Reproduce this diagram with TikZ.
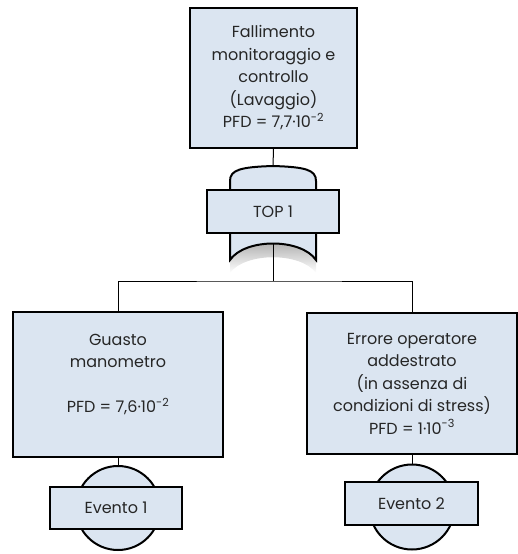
\documentclass[tikz,border=0pt]{standalone}
\usepackage{fontspec}
\setmainfont{Poppins}
\usetikzlibrary{positioning}
\definecolor{boxfill}{HTML}{DBE5F1}
\definecolor{textgray}{HTML}{262626}
\tikzset{
	evbox/.style={draw, line width=2pt, fill=boxfill, inner sep=0pt, align=center,
			text=textgray, font=\fontsize{16}{22.5}\selectfont},
	evcircle/.style={draw, line width=2pt, fill=boxfill, circle, inner sep=0pt},
	link/.style={line width=1pt}
}
\newcommand{\pfd}[2]{PFD = #1\textperiodcentered 10\textsuperscript{#2}}

\begin{document}
\begin{tikzpicture}[x=1pt,y=-1pt]
		\useasboundingbox (0,0) rectangle (518,554);
		% Top event
		\node[evbox, minimum width=167pt, minimum height=140pt] (top) at (273.5,78)
			{Fallimento\\monitoraggio e\\controllo\\(Lavaggio)\\\pfd{7,7}{-2}};
		% OR gate
		\coordinate (gtop) at (273,166);
		\coordinate (gbot) at (273,244);
		\shade[top color=gray!70, bottom color=white]
			(230,259) .. controls (245,238) and (301,238) .. (316,259)
			-- (316,273) .. controls (301,252) and (245,252) .. (230,273) -- cycle;
		\filldraw[fill=boxfill, line width=2pt]
			(230,200) -- (230,181) .. controls (230,170) and (240,167) .. (gtop)
			.. controls (306,167) and (316,170) .. (316,181) -- (316,200);
		\filldraw[fill=boxfill, line width=2pt]
			(316,225) -- (316,260) .. controls (301,238) and (245,238) .. (230,260) -- (230,225);
		\node[evbox, minimum width=132pt, minimum height=43pt] (gate) at (273,211.5) {TOP 1};
		% Basic events
		\node[evbox, minimum width=210pt, minimum height=145pt] (guasto) at (118,384.5)
			{Guasto\\manometro\\~\\\pfd{7,6}{-2}\\~};
		\node[evbox, minimum width=210pt, minimum height=141pt] (errore) at (412,383.5)
			{Errore operatore\\addestrato\\(in assenza di\\condizioni di stress)\\\pfd{1}{-3}};
		\node[evcircle, minimum size=84pt] (ev1c) at (118,508) {};
		\node[evbox, minimum width=132pt, minimum height=42pt] (ev1) at (116,508) {Evento 1};
		\node[evcircle, minimum size=85pt] (ev2c) at (412,507) {};
		\node[evbox, minimum width=133pt, minimum height=43pt] (ev2) at (411.5,503.5) {Evento 2};
		% Connectors
		\coordinate (bus) at (273,281);
		\draw[link] (top.south) -- (gtop);
		\draw[link] (gbot) -- (bus);
		\draw[link] (guasto.north) |- (bus) -| (errore.north);
		\draw[link] (guasto.south) -- (ev1c.north);
		\draw[link] (errore.south) -- (ev2c.north);
	\end{tikzpicture}
\end{document}
